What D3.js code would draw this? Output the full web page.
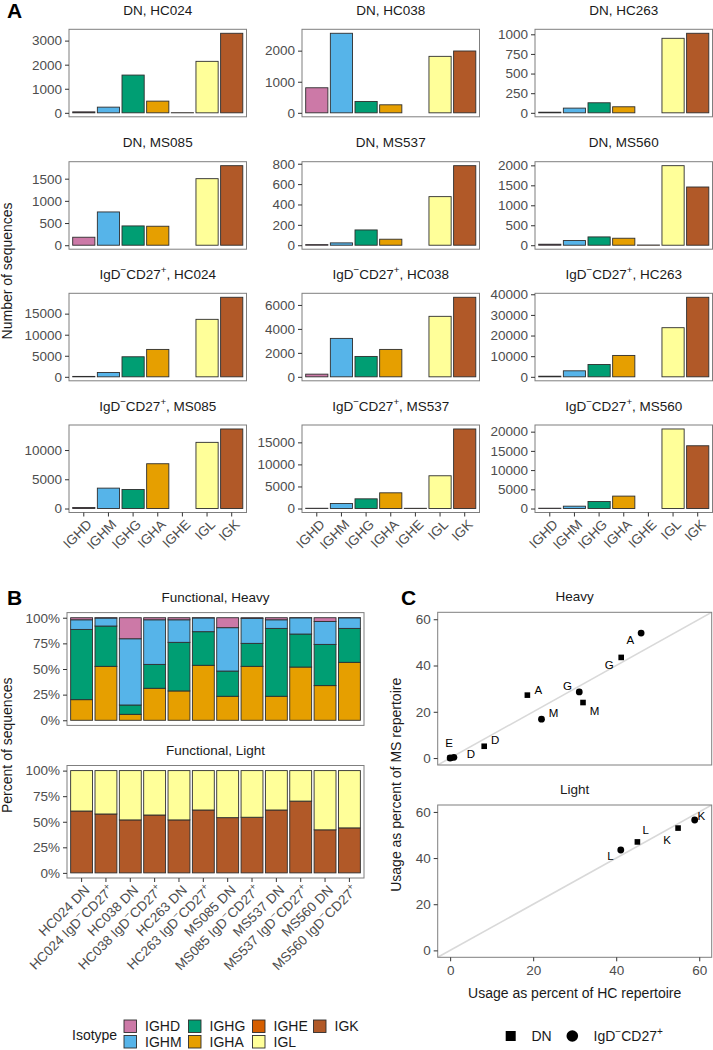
<!DOCTYPE html>
<html><head><meta charset="utf-8">
<script src="https://cdn.jsdelivr.net/npm/d3@7"></script>
<style>body{margin:0;background:#fff}svg{display:block}</style>
</head><body>
<svg id="c" width="713" height="1050"></svg>
<script>
// ---------------- DATA ----------------
const isotypes = ["IGHD","IGHM","IGHG","IGHA","IGHE","IGL","IGK"];
const isoColors = ["#CC79A7","#56B4E9","#009E73","#E69F00","#D55E00","#FFFF99","#B15928"];

// Panel A: number of sequences per isotype (null = not present)
const dnHC024 = [40, 236, 1569, 486, 5, 2139, 3305];
const dnHC038 = [806, 2559, 366, 258, null, 1817, 1989];
const dnHC263 = [8, 60, 128, 77, null, 949, 1013];
const dnMS085 = [180, 750, 435, 428, null, 1500, 1793];
const dnMS537 = [6, 23, 150, 59, null, 477, 781];
const dnMS560 = [25, 117, 208, 175, 5, 1992, 1458];
const mbHC024 = [100, 1032, 4762, 6508, null, 13651, 18889];
const mbHC038 = [223, 3208, 1702, 2288, null, 5050, 6640];
const mbHC263 = [300, 2915, 5992, 10364, null, 23806, 38543];
const mbMS085 = [170, 3486, 3257, 7657, null, 11314, 13600];
const mbMS537 = [60, 1136, 2197, 3560, 50, 7424, 18030];
const mbMS560 = [80, 611, 1834, 3231, null, 20699, 16332];

const ticksDnHC024 = [0, 1000, 2000, 3000];
const ticksDnHC038 = [0, 1000, 2000];
const ticksDnHC263 = [0, 250, 500, 750, 1000];
const ticksDnMS085 = [0, 500, 1000, 1500];
const ticksDnMS537 = [0, 200, 400, 600, 800];
const ticksDnMS560 = [0, 500, 1000, 1500, 2000];
const ticksMbHC024 = [0, 5000, 10000, 15000];
const ticksMbHC038 = [0, 2000, 4000, 6000];
const ticksMbHC263 = [0, 10000, 20000, 30000, 40000];
const ticksMbMS085 = [0, 5000, 10000];
const ticksMbMS537 = [0, 5000, 10000, 15000];
const ticksMbMS560 = [0, 5000, 10000, 15000, 20000];

const donors = ["HC024","HC038","HC263","MS085","MS537","MS560"];
const subsetDN = "DN";
const subsetMB = "IgD^−^CD27^+^";

// Panel B: percent of functional sequences
const sampleLabels = ["HC024 DN","HC024 IgD^−^CD27^+^","HC038 DN","HC038 IgD^−^CD27^+^","HC263 DN","HC263 IgD^−^CD27^+^",
  "MS085 DN","MS085 IgD^−^CD27^+^","MS537 DN","MS537 IgD^−^CD27^+^","MS560 DN","MS560 IgD^−^CD27^+^"];
const heavyD = [2.0, 0.3, 20.5, 2.0, 2.0, 0.2, 9.7, 0.6, 2.0, 0.1, 3.6, 0.1];
const heavyM = [9.4, 7.8, 64.6, 43.5, 22.0, 13.4, 42.3, 24.4, 8.4, 15.8, 22.4, 10.3];
const heavyG = [68.5, 39.3, 9.1, 23.3, 47.4, 32.8, 24.6, 22.4, 66.2, 32.2, 40.2, 33.1];
const heavyA = [20.1, 52.6, 5.8, 31.2, 28.6, 53.6, 23.4, 52.6, 23.4, 51.9, 33.8, 56.5];
const heavyE = [0, 0, 0, 0, 0, 0, 0, 0, 0, 0, 0, 0];
const lightK = [60.5, 57.6, 51.8, 56.6, 51.8, 61.5, 54.0, 54.4, 61.5, 70.2, 42.1, 44.0];
const lightL = [39.5, 42.4, 48.2, 43.4, 48.2, 38.5, 46.0, 45.6, 38.5, 29.8, 57.9, 56.0];
const pctTicks = [0, 25, 50, 75, 100];

// Panel C: usage as percent of repertoire
const heavyIso = ["D","M","G","A","E"];
const dnHeavyHC = [8.2, 32.0, 41.2, 18.6, 0.05];
const dnHeavyMS = [5.1, 24.0, 43.5, 27.2, 0.05];
const mbHeavyHC = [0.9, 22.0, 31.1, 46.0, 0.0];
const mbHeavyMS = [0.3, 16.8, 28.6, 54.0, 0.02];
const lightIso = ["L","K"];
const dnLightHC = [45.1, 54.9];
const dnLightMS = [47.0, 53.0];
const mbLightHC = [41.1, 58.9];
const mbLightMS = [43.5, 56.5];
const usageTicks = [0, 20, 40, 60];

// label nudges (ggrepel-like), pixels
const nudgeDnHeavy = [[11,-6],[11.6,8.4],[-12,7],[11,-5.7],[-1.3,-14.7]];
const nudgeMbHeavy = [[17,-4],[12,-6.7],[-11.7,-6],[-10.7,7],null];
const nudgeDnLight = [[8.4,-12],[-11,11.7]];
const nudgeMbLight = [[-10.3,5.7],[6.6,-4]];

// ---------------- STYLE ----------------
const F = "'Liberation Sans', Arial, Helvetica, sans-serif";
const TICK = 13.5, TITLE = 13.5, AXT = 14;
const tickCol = "#4d4d4d", txtCol = "#1a1a1a", border = "#7f7f7f", barStroke = "#2e2e2e";
const svg = d3.select("#c").attr("font-family", F);

function rich(sel, label, fs) {
  const parts = label.split("^");
  let shifted = false;
  parts.forEach((p, i) => {
    if (!p) return;
    const sup = i % 2 === 1;
    const t = sel.append("tspan").text(p);
    if (sup) { t.attr("font-size", fs * 0.72).attr("dy", -fs * 0.42); shifted = true; }
    else if (shifted) { t.attr("dy", fs * 0.42); shifted = false; }
  });
  return sel;
}
function styleAxis(ga) {
  ga.attr("font-family", F);
  ga.select(".domain").remove();
  ga.selectAll(".tick line").attr("stroke", "#333").attr("stroke-width", 1);
  ga.selectAll(".tick text").attr("fill", tickCol).attr("font-size", TICK).attr("font-family", F);
}

// ---------------- PANEL A ----------------
const panelsA = [
  {sub: subsetDN, d: "HC024", v: dnHC024, t: ticksDnHC024},
  {sub: subsetDN, d: "HC038", v: dnHC038, t: ticksDnHC038},
  {sub: subsetDN, d: "HC263", v: dnHC263, t: ticksDnHC263},
  {sub: subsetDN, d: "MS085", v: dnMS085, t: ticksDnMS085},
  {sub: subsetDN, d: "MS537", v: dnMS537, t: ticksDnMS537},
  {sub: subsetDN, d: "MS560", v: dnMS560, t: ticksDnMS560},
  {sub: subsetMB, d: "HC024", v: mbHC024, t: ticksMbHC024},
  {sub: subsetMB, d: "HC038", v: mbHC038, t: ticksMbHC038},
  {sub: subsetMB, d: "HC263", v: mbHC263, t: ticksMbHC263},
  {sub: subsetMB, d: "MS085", v: mbMS085, t: ticksMbMS085},
  {sub: subsetMB, d: "MS537", v: mbMS537, t: ticksMbMS537},
  {sub: subsetMB, d: "MS560", v: mbMS560, t: ticksMbMS560}
];
const aCols = [69, 302, 535], aW = 177.5, aRows = [29.3, 161.7, 293.3, 425], aH = 87.5;

panelsA.forEach((p, k) => {
  const row = Math.floor(k / 3), col = k % 3;
  const x0 = aCols[col], y0 = aRows[row];
  const x = d3.scaleBand().domain(isotypes).range([x0, x0 + aW]).paddingInner(0.1).paddingOuter(0.15);
  const mx = d3.max(p.v);
  const y = d3.scaleLinear().domain([-0.05 * mx, 1.05 * mx]).range([y0 + aH, y0]);
  const g = svg.append("g");
  const rows = isotypes.map((iso, i) => ({iso, v: p.v[i], c: isoColors[i]})).filter(d => d.v != null);
  g.selectAll("rect.bar").data(rows).join("rect").attr("class", "bar")
    .attr("x", d => x(d.iso)).attr("width", x.bandwidth())
    .attr("y", d => y(d.v)).attr("height", d => Math.max(0, y(0) - y(d.v)))
    .attr("fill", d => d.c).attr("stroke", barStroke).attr("stroke-width", 0.9);
  g.append("rect").attr("x", x0).attr("y", y0).attr("width", aW).attr("height", aH)
    .attr("fill", "none").attr("stroke", border).attr("stroke-width", 1);
  const ga = g.append("g").attr("transform", `translate(${x0},0)`)
    .call(d3.axisLeft(y).tickValues(p.t).tickSize(4).tickPadding(3).tickFormat(d3.format("d")));
  styleAxis(ga);
  const tt = g.append("text").attr("x", x0 + aW / 2).attr("y", y0 - 14.5)
    .attr("text-anchor", "middle").attr("font-size", TITLE).attr("fill", txtCol);
  rich(tt, p.sub + ", " + p.d, TITLE);
  if (row === 3) {
    const gx = g.append("g").attr("transform", `translate(0,${y0 + aH})`)
      .call(d3.axisBottom(x).tickSize(4).tickFormat(""));
    styleAxis(gx);
    g.selectAll("text.xl").data(isotypes).join("text").attr("class", "xl")
      .attr("transform", d => `translate(${x(d) + x.bandwidth() / 2 + 2},${y0 + aH + 6}) rotate(-45)`)
      .attr("text-anchor", "end").attr("dy", "0.72em")
      .attr("font-size", TICK).attr("fill", tickCol).text(d => d);
  }
});
svg.append("text").attr("transform", `translate(12,${(29.3 + 425 + aH) / 2}) rotate(-90)`)
  .attr("text-anchor", "middle").attr("font-size", AXT).attr("fill", txtCol).text("Number of sequences");
svg.append("text").attr("x", 7).attr("y", 18).attr("font-size", 21).attr("font-weight", "bold").text("A");

// ---------------- PANEL B ----------------
const bL = 67, bR = 364;
const bx = d3.scaleBand().domain(sampleLabels).range([bL, bR]).paddingInner(0.1).paddingOuter(0.15);
function stackPanel(top, bottom, keys, arrays, colorsFor, title) {
  const y = d3.scaleLinear().domain([-5, 105]).range([bottom, top]);
  const g = svg.append("g");
  const rows = sampleLabels.map((s, i) => { const o = {s}; keys.forEach((k, j) => o[k] = arrays[j][i]); return o; });
  const series = d3.stack().keys(keys)(rows);
  series.forEach((ser, j) => {
    g.selectAll(null).data(ser.filter(d => d[1] - d[0] > 0)).join("rect")
      .attr("x", d => bx(d.data.s)).attr("width", bx.bandwidth())
      .attr("y", d => y(d[1])).attr("height", d => y(d[0]) - y(d[1]))
      .attr("fill", colorsFor[j]).attr("stroke", barStroke).attr("stroke-width", 0.9);
  });
  g.append("rect").attr("x", bL).attr("y", top).attr("width", bR - bL).attr("height", bottom - top)
    .attr("fill", "none").attr("stroke", border);
  const ga = g.append("g").attr("transform", `translate(${bL},0)`)
    .call(d3.axisLeft(y).tickValues(pctTicks).tickSize(4).tickPadding(3).tickFormat(d => d + "%"));
  styleAxis(ga);
  g.append("text").attr("x", (bL + bR) / 2).attr("y", top - 11).attr("text-anchor", "middle")
    .attr("font-size", TITLE).attr("fill", txtCol).text(title);
  return g;
}
const col = iso => isoColors[isotypes.indexOf(iso)];
stackPanel(612.6, 725.4, ["IGHE","IGHA","IGHG","IGHM","IGHD"], [heavyE, heavyA, heavyG, heavyM, heavyD],
  ["IGHE","IGHA","IGHG","IGHM","IGHD"].map(col), "Functional, Heavy");
stackPanel(765.5, 878, ["IGK","IGL"], [lightK, lightL], ["IGK","IGL"].map(col), "Functional, Light");
const gbx = svg.append("g").attr("transform", `translate(0,878)`).call(d3.axisBottom(bx).tickSize(4).tickFormat(""));
styleAxis(gbx);
sampleLabels.forEach(s => {
  const t = svg.append("text")
    .attr("transform", `translate(${bx(s) + bx.bandwidth() / 2 + 2},${884}) rotate(-45)`)
    .attr("text-anchor", "end").attr("dy", "0.72em").attr("font-size", TICK).attr("fill", tickCol);
  rich(t, s, TICK);
});
svg.append("text").attr("transform", `translate(12,${(612.6 + 878) / 2}) rotate(-90)`)
  .attr("text-anchor", "middle").attr("font-size", AXT).attr("fill", txtCol).text("Percent of sequences");
svg.append("text").attr("x", 7).attr("y", 605).attr("font-size", 21).attr("font-weight", "bold").text("B");

// legend B
const legB = svg.append("g");
legB.append("text").attr("x", 72).attr("y", 1039.5).attr("font-size", AXT).attr("fill", txtCol).text("Isotype");
const legCols = [124, 188.5, 252.5, 313.5];
const legOrder = [["IGHD","IGHM"],["IGHG","IGHA"],["IGHE","IGL"],["IGK"]];
legOrder.forEach((c, ci) => c.forEach((iso, ri) => {
  const yy = 1020 + ri * 15.5;
  legB.append("rect").attr("x", legCols[ci]).attr("y", yy).attr("width", 12.5).attr("height", 12.5)
    .attr("fill", col(iso)).attr("stroke", barStroke).attr("stroke-width", 0.9);
  legB.append("text").attr("x", legCols[ci] + 21).attr("y", yy + 11.3).attr("font-size", AXT)
    .attr("fill", txtCol).text(iso);
}));

// ---------------- PANEL C ----------------
const cL = 437.7, cR = 711.7;
const cx = d3.scaleLinear().domain([-3, 63]).range([cL, cR]);
function scatterPanel(top, bottom, title, iso, dnHC, dnMS, mbHC, mbMS, nDn, nMb, showX) {
  const y = d3.scaleLinear().domain([-3, 63]).range([bottom, top]);
  const g = svg.append("g");
  const cid = "clip" + Math.round(top);
  svg.append("clipPath").attr("id", cid).append("rect").attr("x", cL).attr("y", top).attr("width", cR - cL).attr("height", bottom - top);
  g.append("line").attr("clip-path", `url(#${cid})`)
    .attr("x1", cx(-3)).attr("y1", y(-3)).attr("x2", cx(63)).attr("y2", y(63))
    .attr("stroke", "#d9d9d9").attr("stroke-width", 1.6);
  const dn = iso.map((s, i) => ({s, hc: dnHC[i], ms: dnMS[i], n: nDn[i]}));
  const mb = iso.map((s, i) => ({s, hc: mbHC[i], ms: mbMS[i], n: nMb[i]}));
  g.selectAll(null).data(dn).join("rect")
    .attr("x", d => cx(d.hc) - 2.8).attr("y", d => y(d.ms) - 2.8).attr("width", 5.6).attr("height", 5.6).attr("fill", "#000");
  g.selectAll(null).data(mb).join("circle")
    .attr("cx", d => cx(d.hc)).attr("cy", d => y(d.ms)).attr("r", 3.4).attr("fill", "#000");
  g.selectAll(null).data(dn.concat(mb).filter(d => d.n)).join("text")
    .attr("x", d => cx(d.hc) + d.n[0]).attr("y", d => y(d.ms) + d.n[1]).attr("dy", "0.36em")
    .attr("text-anchor", "middle").attr("font-size", 11.5).attr("fill", "#000").text(d => d.s);
  g.append("rect").attr("x", cL).attr("y", top).attr("width", cR - cL).attr("height", bottom - top)
    .attr("fill", "none").attr("stroke", border);
  const ga = g.append("g").attr("transform", `translate(${cL},0)`)
    .call(d3.axisLeft(y).tickValues(usageTicks).tickSize(4).tickPadding(3));
  styleAxis(ga);
  if (showX) {
    const gx = g.append("g").attr("transform", `translate(0,${bottom})`)
      .call(d3.axisBottom(cx).tickValues(usageTicks).tickSize(4).tickPadding(4));
    styleAxis(gx);
  }
  g.append("text").attr("x", (cL + cR) / 2).attr("y", top - 11).attr("text-anchor", "middle")
    .attr("font-size", TITLE).attr("fill", txtCol).text(title);
}
scatterPanel(612.3, 765, "Heavy", heavyIso, dnHeavyHC, dnHeavyMS, mbHeavyHC, mbHeavyMS, nudgeDnHeavy, nudgeMbHeavy, false);
scatterPanel(805, 957.3, "Light", lightIso, dnLightHC, dnLightMS, mbLightHC, mbLightMS, nudgeDnLight, nudgeMbLight, true);
svg.append("text").attr("x", (cL + cR) / 2).attr("y", 998).attr("text-anchor", "middle")
  .attr("font-size", AXT).attr("fill", txtCol).text("Usage as percent of HC repertoire");
svg.append("text").attr("transform", `translate(401,${(612.3 + 957.3) / 2}) rotate(-90)`)
  .attr("text-anchor", "middle").attr("font-size", AXT).attr("fill", txtCol).text("Usage as percent of MS repertoire");
svg.append("text").attr("x", 401).attr("y", 605).attr("font-size", 21).attr("font-weight", "bold").text("C");

// legend C
const legC = svg.append("g");
legC.append("rect").attr("x", 505.7).attr("y", 1031).attr("width", 10).attr("height", 10).attr("fill", "#000");
legC.append("text").attr("x", 531.5).attr("y", 1041).attr("font-size", AXT).attr("fill", txtCol).text("DN");
legC.append("circle").attr("cx", 572.3).attr("cy", 1036).attr("r", 5.8).attr("fill", "#000");
rich(legC.append("text").attr("x", 593.5).attr("y", 1041).attr("font-size", AXT).attr("fill", txtCol), subsetMB, AXT);
</script>
</body></html>
